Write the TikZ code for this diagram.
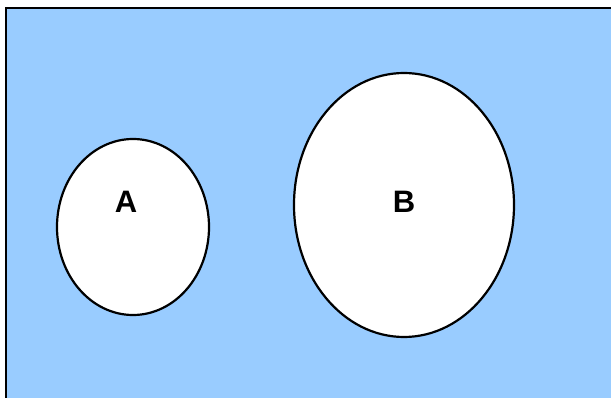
\documentclass[tikz,border=0pt]{standalone}
\usepackage{fontspec}
\setmainfont{Liberation Sans}
\usepackage{tikz}
\definecolor{skyblue}{HTML}{99CCFF}

\begin{document}
\begin{tikzpicture}[x=1pt,y=-1pt]
\useasboundingbox (0,0) rectangle (611,398);
\draw[line width=2pt,fill=skyblue] (6,8) rectangle (630,420);
\draw[line width=2.2pt,fill=white] (133,227) ellipse (76 and 88);
\draw[line width=2.2pt,fill=white] (404,205) ellipse (110 and 132);
\node[font=\fontsize{31}{37}\selectfont\bfseries] (labelA) at (126,202) {A};
\node[font=\fontsize{31}{37}\selectfont\bfseries] (labelB) at (404,202) {B};
\end{tikzpicture}
\end{document}
